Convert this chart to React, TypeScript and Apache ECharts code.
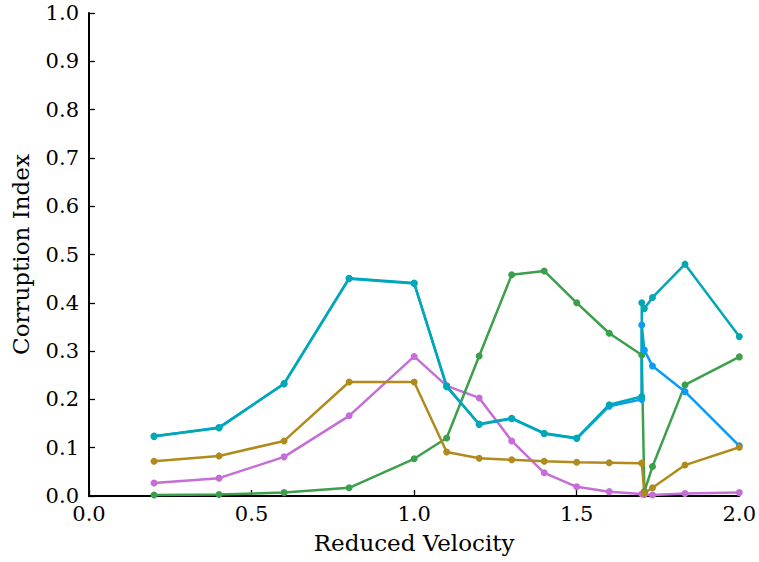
import React, { useEffect, useRef } from "react";
import * as echarts from "echarts";

const xMain = [0.2, 0.4, 0.6, 0.8, 1.0, 1.1, 1.2, 1.3, 1.4, 1.5, 1.6, 1.7];
const xTailLong = [1.7, 1.708, 1.733, 1.833, 2.0];
const xTailShort = [1.708, 1.733, 1.833, 2.0];

const tealMain = [0.124, 0.141, 0.233, 0.451, 0.441, 0.226, 0.149, 0.161, 0.13, 0.12, 0.189, 0.206];
const tealTail = [0.4, 0.388, 0.411, 0.48, 0.33];
const blueMain = [0.123, 0.142, 0.232, 0.45, 0.44, 0.228, 0.148, 0.16, 0.129, 0.119, 0.186, 0.2];
const blueTail = [0.354, 0.302, 0.269, 0.216, 0.104];
const greenMain = [0.002, 0.003, 0.007, 0.017, 0.077, 0.12, 0.29, 0.458, 0.466, 0.4, 0.337, 0.292];
const greenTail = [0.009, 0.061, 0.23, 0.288];
const goldMain = [0.072, 0.083, 0.114, 0.236, 0.236, 0.091, 0.078, 0.075, 0.072, 0.07, 0.069, 0.068];
const goldTail = [0.006, 0.017, 0.064, 0.101];
const purpleMain = [0.027, 0.037, 0.081, 0.166, 0.289, 0.228, 0.203, 0.114, 0.048, 0.019, 0.009, 0.004];
const purpleTail = [0.003, 0.002, 0.005, 0.007];

const xTicks = [0, 0.5, 1.0, 1.5, 2.0];

const pairs = (xs: number[], ys: number[]) => xs.map((x, i) => [x, ys[i]]);

const FONT = "DejaVu Serif";

export default function App() {
  const ref = useRef<HTMLDivElement>(null);
  useEffect(() => {
    if (!ref.current) return;
    const chart = echarts.init(ref.current, null, { renderer: "svg" });
    const mk = (name: string, color: string, main: number[], tx: number[], tail: number[]) => ({
      name,
      type: "line",
      data: [...pairs(xMain, main), ...pairs(tx, tail)],
      symbol: "circle",
      symbolSize: 7,
      showSymbol: true,
      lineStyle: { color, width: 2.5 },
      itemStyle: { color },
      z: 2,
    });
    const lab = { fontFamily: FONT, fontSize: 21, color: "#000" };
    const nm = { fontFamily: FONT, fontSize: 23, color: "#000" };
    const axisCommon = {
      axisLine: { show: true, onZero: false, lineStyle: { color: "#000", width: 2 } },
      axisTick: { show: true, inside: true, length: 6, lineStyle: { color: "#000", width: 1.3 } },
      splitLine: { show: false },
      nameTextStyle: nm,
    };
    chart.setOption({
      animation: false,
      backgroundColor: "#fff",
      textStyle: { fontFamily: FONT },
      grid: { left: 89, top: 13, width: 653, height: 483, containLabel: false },
      xAxis: {
        type: "value",
        min: 0,
        max: 2,
        interval: 0.5,
        name: "Reduced Velocity",
        nameLocation: "middle",
        nameGap: 35,
        ...axisCommon,
        axisLabel: {
          ...lab,
          margin: 7,
          formatter: (v: number) => (xTicks.includes(v) ? v.toFixed(1) : ""),
        },
      },
      yAxis: {
        type: "value",
        min: 0,
        max: 1,
        interval: 0.1,
        name: "Corruption Index",
        nameLocation: "middle",
        nameGap: 57,
        nameRotate: 90,
        ...axisCommon,
        axisLabel: {
          ...lab,
          margin: 10,
          formatter: (v: number) => v.toFixed(1),
        },
      },
      series: [
        mk("purple", "#c46ed6", purpleMain, xTailShort, purpleTail),
        mk("green", "#3c9f4c", greenMain, xTailShort, greenTail),
        mk("blue", "#0a9cf5", blueMain, xTailLong, blueTail),
        mk("teal", "#00a8b4", tealMain, xTailLong, tealTail),
        mk("gold", "#b08b1c", goldMain, xTailShort, goldTail),
      ],
    });
    return () => chart.dispose();
  }, []);
  return (
    <div
      ref={ref}
      style={{ position: "absolute", left: 0, top: 0, width: 759, height: 562 }}
    />
  );
}
